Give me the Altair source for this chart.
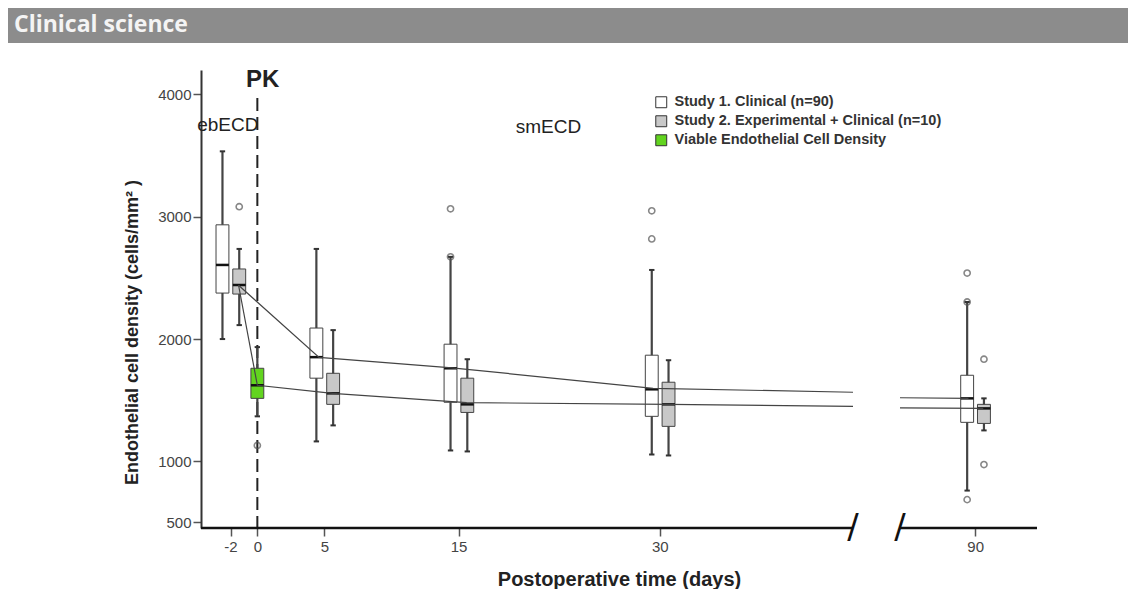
import altair as alt
import pandas as pd

S1 = "Study 1. Clinical (n=90)"
S2 = "Study 2. Experimental + Clinical (n=10)"
V = "Viable Endothelial Cell Density"

# box summaries
box_day = [-2, -2, 0, 5, 5, 15, 15, 30, 30, 90, 90]
box_group = [S1, S2, V, S1, S2, S1, S2, S1, S2, S1, S2]
box_wlo = [2000, 2114, 1368, 1163, 1294, 1089, 1081, 1056, 1048, 761, 1253]
box_q1 = [2376, 2368, 1515, 1680, 1466, 1483, 1400, 1368, 1286, 1319, 1310]
box_med = [2606, 2442, 1622, 1852, 1556, 1761, 1466, 1589, 1466, 1515, 1433]
box_q3 = [2934, 2573, 1761, 2090, 1720, 1958, 1680, 1868, 1647, 1704, 1466]
box_whi = [3535, 2737, 1934, 2737, 2073, 2672, 1835, 2565, 1827, 2303, 1515]

# outliers
out_day = [-2, 0, 15, 15, 30, 30, 90, 90, 90, 90, 90]
out_group = [S2, V, S1, S1, S1, S1, S1, S1, S1, S2, S2]
out_val = [3082, 1130, 3065, 2672, 3049, 2819, 2540, 2303, 687, 1835, 974]

# trend lines (broken at the axis break)
trend_id = ["up-a"] * 5 + ["up-b"] * 2 + ["lo-a"] * 6 + ["lo-b"] * 2
trend_day = [-1.4, 4.6, 14.5, 29.5, 44.4, 84.4, 89.5,
             -1.4, 0, 5.6, 15.6, 30.7, 44.4, 84.4, 90.6]
trend_val = [2440, 1850, 1765, 1597, 1565, 1520, 1515,
             2440, 1622, 1556, 1480, 1466, 1450, 1438, 1433]

# axis structure
x_ticks = [-2, 0, 5, 15, 30, 90]
y_ticks = [500, 1000, 2000, 3000, 4000]
axis_seg_start = [-4.2, 84.4]
axis_seg_end = [44.4, 94.6]
break_days = [44.4, 84.4]

FONT = "Liberation Sans"
W, H = 836, 458

xscale = alt.Scale(domain=[-4.2, 44.4, 84.4, 94.6], range=[0, 652, 699, 836])
yscale = alt.Scale(domain=[455, 4200], nice=False, zero=False)

boxes = pd.DataFrame(dict(day=box_day, group=box_group, wlo=box_wlo, q1=box_q1,
                          med=box_med, q3=box_q3, whi=box_whi))
outs = pd.DataFrame(dict(day=out_day, group=out_group, val=out_val))
trend = pd.DataFrame(dict(seg=trend_id, day=trend_day, val=trend_val))
segs = pd.DataFrame(dict(a=axis_seg_start, b=axis_seg_end))
brk = pd.DataFrame(dict(day=break_days))
one = pd.DataFrame({"k": [0]})

offset_expr = f"datum.group == '{S1}' ? -0.6 : (datum.group == '{S2}' ? 0.65 : 0)"

base = alt.Chart(boxes).transform_calculate(
    pos=f"datum.day + ({offset_expr})"
).transform_calculate(
    lo="datum.pos - 0.48", hi="datum.pos + 0.48",
    clo="datum.pos - 0.2", chi="datum.pos + 0.2"
)

xaxis = alt.Axis(values=x_ticks, title="Postoperative time (days)", domain=False,
                 grid=False, tickSize=8, tickColor="#555", tickWidth=1.5,
                 labelExpr="'' + datum.value",
                 labelFontSize=15, labelColor="#444", labelPadding=3,
                 titleFontSize=20, titleFontWeight="bold", titleColor="#222",
                 titlePadding=15, labelFont=FONT, titleFont=FONT)
yaxis = alt.Axis(values=y_ticks, title="Endothelial cell density (cells/mm² )",
                 format="d",
                 grid=False, domainColor="#333", domainWidth=2, tickSize=8,
                 tickColor="#555", tickWidth=1.5, labelFontSize=15, labelColor="#444",
                 labelPadding=2, titleFontSize=18, titleFontWeight="bold",
                 titleColor="#222", titlePadding=16, titleY=262,
                 labelFont=FONT, titleFont=FONT)

whiskers = base.mark_rule(color="#444", strokeWidth=2.2).encode(
    x=alt.X("pos:Q", scale=xscale, axis=xaxis),
    y=alt.Y("wlo:Q", scale=yscale, axis=yaxis),
    y2="whi:Q",
)
cap_lo = base.mark_rule(color="#333", strokeWidth=2).encode(
    x=alt.X("clo:Q", scale=xscale), x2="chi:Q", y=alt.Y("wlo:Q", scale=yscale))
cap_hi = base.mark_rule(color="#333", strokeWidth=2).encode(
    x=alt.X("clo:Q", scale=xscale), x2="chi:Q", y=alt.Y("whi:Q", scale=yscale))

fill_scale = alt.Scale(domain=[S1, S2, V], range=["#ffffff", "#c8c8c8", "#62d41f"])
boxmark = base.mark_bar(stroke="#444", strokeWidth=1, opacity=1).encode(
    x=alt.X("lo:Q", scale=xscale), x2="hi:Q",
    y=alt.Y("q1:Q", scale=yscale), y2="q3:Q",
    fill=alt.Fill("group:N", scale=fill_scale, title=None,
                  legend=alt.Legend(orient="none", legendX=453, legendY=25,
                                    symbolType="square", symbolSize=120,
                                    symbolStrokeColor="#333", symbolStrokeWidth=1,
                                    symbolOpacity=1,
                                    labelFont=FONT, labelFontSize=14.5,
                                    labelFontWeight="bold", labelColor="#333",
                                    labelOffset=6, rowPadding=3, padding=0,
                                    labelLimit=400)),
)
medians = base.mark_rule(color="#111", strokeWidth=2.5).encode(
    x=alt.X("lo:Q", scale=xscale), x2="hi:Q", y=alt.Y("med:Q", scale=yscale))

lines = alt.Chart(trend).mark_line(color="#444", strokeWidth=1.2).encode(
    x=alt.X("day:Q", scale=xscale), y=alt.Y("val:Q", scale=yscale),
    detail="seg:N")

outliers = alt.Chart(outs).transform_calculate(
    pos=f"datum.day + ({offset_expr})"
).mark_point(shape="circle", filled=False, size=38, color="#555",
             strokeWidth=1.6).encode(
    x=alt.X("pos:Q", scale=xscale), y=alt.Y("val:Q", scale=yscale))

pk_line = alt.Chart(one).mark_rule(color="#222", strokeWidth=2,
                                   strokeDash=[13, 6]).encode(
    x=alt.datum(0, scale=xscale), y=alt.value(28), y2=alt.value(H))

axis_lines = alt.Chart(segs).mark_rule(color="#111", strokeWidth=2.5).encode(
    x=alt.X("a:Q", scale=xscale), x2="b:Q", y=alt.value(H))

breaks = alt.Chart(brk).mark_text(text="/", fontSize=34, font="DejaVu Sans",
                                  color="#111", baseline="middle").encode(
    x=alt.X("day:Q", scale=xscale), y=alt.value(H))

pk_text = alt.Chart(one).mark_text(text="PK", fontSize=24, fontWeight="bold",
                                   font=FONT, color="#222").encode(
    x=alt.datum(0.4, scale=xscale), y=alt.value(10))
eb_text = alt.Chart(one).mark_text(text="ebECD", fontSize=19, font=FONT,
                                   color="#222").encode(
    x=alt.datum(-2.2, scale=xscale), y=alt.value(55))
sm_text = alt.Chart(one).mark_text(text="smECD", fontSize=19, font=FONT,
                                   color="#222").encode(
    x=alt.datum(21.7, scale=xscale), y=alt.value(57))

header_bg = alt.Chart(one).mark_rect(color="#8c8c8c").encode(
    x=alt.value(-193), x2=alt.value(927), y=alt.value(-62), y2=alt.value(-27))
header_tx = alt.Chart(one).mark_text(text="Clinical science", fontSize=23,
                                     fontWeight="bold", font="Open Sans",
                                     color="#f4f4f4", align="left",
                                     baseline="middle").encode(
    x=alt.value(-187), y=alt.value(-45))

chart = alt.layer(
    header_bg, header_tx, pk_line, axis_lines, breaks, whiskers, cap_lo, cap_hi,
    boxmark, medians, lines, outliers, pk_text, eb_text, sm_text
).properties(width=W, height=H, padding=0, background="white").configure_view(
    strokeWidth=0)

chart.save("out.html", embed_options={"renderer": "svg", "actions": False})
